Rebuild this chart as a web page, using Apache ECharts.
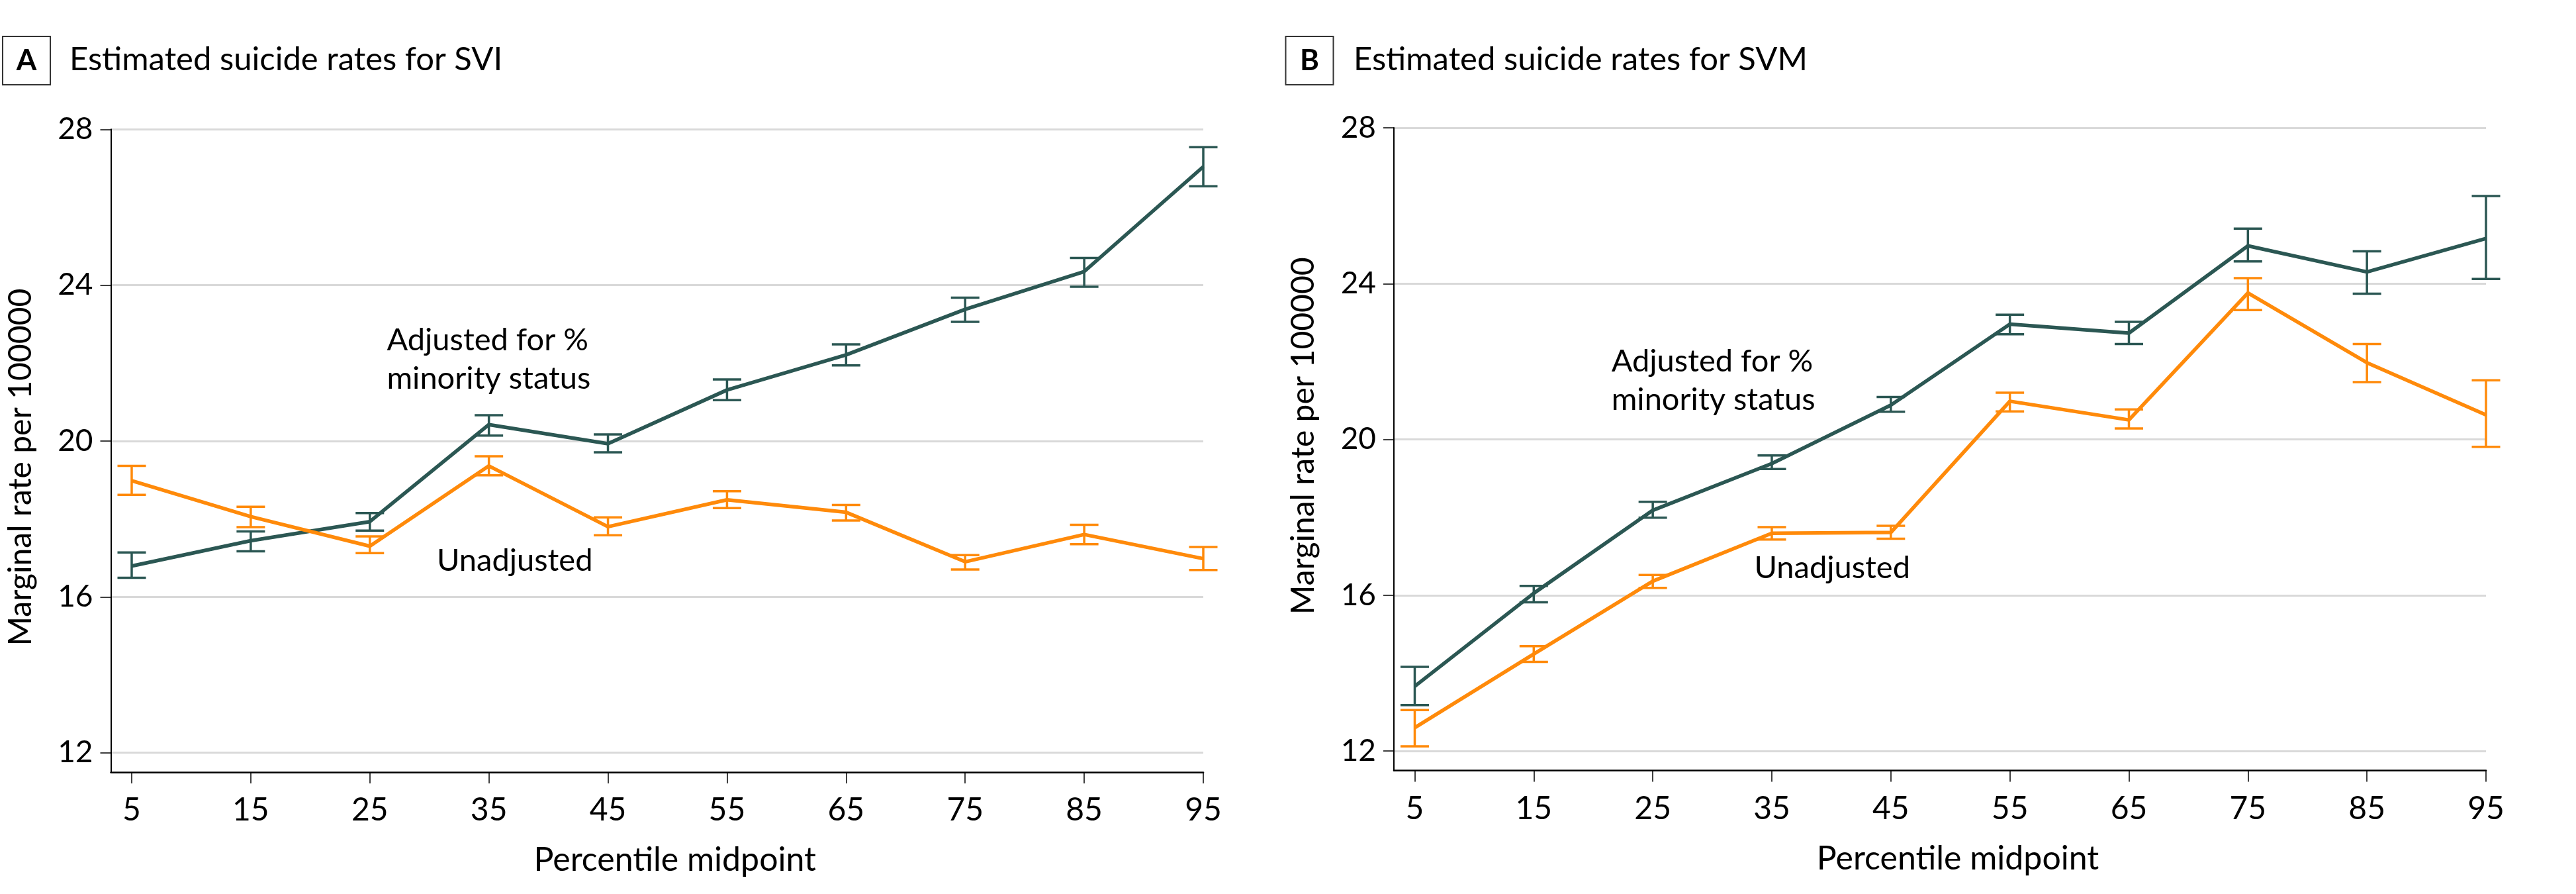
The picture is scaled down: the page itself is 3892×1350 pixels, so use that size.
<!DOCTYPE html>
<html>
<head>
<meta charset="utf-8">
<script src="https://cdn.jsdelivr.net/npm/echarts@6/dist/echarts.min.js"></script>
<style>
html,body{margin:0;padding:0;background:#fff;}
#chart{width:3892px;height:1350px;}
</style>
</head>
<body>
<div id="chart"></div>
<script>
// ---- data ----
const percentiles = [5, 15, 25, 35, 45, 55, 65, 75, 85, 95];
const yTicks = [12, 16, 20, 24, 28];

const sviAdjMean = [16.79, 17.44, 17.93, 20.42, 19.93, 21.31, 22.21, 23.38, 24.35, 27.04];
const sviAdjLow  = [16.49, 17.17, 17.70, 20.14, 19.71, 21.05, 21.94, 23.06, 23.96, 26.54];
const sviAdjHigh = [17.14, 17.68, 18.15, 20.66, 20.17, 21.58, 22.48, 23.68, 24.70, 27.54];

const sviUnMean = [18.98, 18.06, 17.30, 19.36, 17.80, 18.49, 18.17, 16.90, 17.60, 16.98];
const sviUnLow  = [18.62, 17.79, 17.12, 19.12, 17.58, 18.28, 17.96, 16.70, 17.35, 16.69];
const sviUnHigh = [19.36, 18.31, 17.55, 19.61, 18.04, 18.71, 18.36, 17.07, 17.85, 17.28];

const svmAdjMean = [13.66, 16.05, 18.18, 19.38, 20.88, 22.96, 22.73, 24.97, 24.30, 25.16];
const svmAdjLow  = [13.18, 15.82, 17.99, 19.24, 20.71, 22.70, 22.45, 24.57, 23.74, 24.12];
const svmAdjHigh = [14.16, 16.24, 18.40, 19.59, 21.09, 23.20, 23.02, 25.41, 24.83, 26.25];

const svmUnMean = [12.60, 14.49, 16.36, 17.59, 17.61, 20.98, 20.50, 23.76, 21.97, 20.63];
const svmUnLow  = [12.12, 14.29, 16.19, 17.43, 17.45, 20.72, 20.28, 23.32, 21.47, 19.81];
const svmUnHigh = [13.05, 14.69, 16.52, 17.75, 17.78, 21.20, 20.77, 24.14, 22.45, 21.52];

const panelLetters = ['A', 'B'];
const panelTitles = ['Estimated suicide rates for SVI', 'Estimated suicide rates for SVM'];
const xAxisName = 'Percentile midpoint';
const yAxisName = 'Marginal rate per 100000';
const adjLabel = 'Adjusted for %\nminority status';
const unLabel = 'Unadjusted';
// annotation anchor points in data units [x, y]
const adjLabelPos = [[26.4, 22.1], [21.5, 21.5]];
const unLabelPos = [[30.6, 16.93], [33.5, 16.7]];

// ---- styling ----
const TEAL = '#2b5753';
const ORANGE = '#ff8a0a';
const FONT = 'Lato, "Open Sans", sans-serif';

function pts(mean) { return percentiles.map((p, i) => [p, mean[i]]); }
function bars(low, high) { return percentiles.map((p, i) => [p, low[i], high[i]]); }

function errorBarRender(params, api) {
  const x = api.value(0);
  const pLo = api.coord([x, api.value(1)]);
  const pHi = api.coord([x, api.value(2)]);
  const hw = 21.5;
  const style = { stroke: api.visual('color'), lineWidth: 3.5, fill: null };
  return {
    type: 'group',
    children: [
      { type: 'line', shape: { x1: pLo[0], y1: pLo[1], x2: pHi[0], y2: pHi[1] }, style: style },
      { type: 'line', shape: { x1: pLo[0] - hw, y1: pLo[1], x2: pLo[0] + hw, y2: pLo[1] }, style: style },
      { type: 'line', shape: { x1: pHi[0] - hw, y1: pHi[1], x2: pHi[0] + hw, y2: pHi[1] }, style: style }
    ]
  };
}

const grids = [
  { left: 167.5, top: 195.3, width: 1650.5, height: 970.7 },
  { left: 2106, top: 193, width: 1650, height: 970.5 }
];

const xAxes = grids.map((g, i) => ({
  type: 'value', gridIndex: i, min: 3.25, max: 95,
  name: xAxisName, nameLocation: 'middle', nameGap: 108,
  nameTextStyle: { fontFamily: FONT, fontSize: 50, color: '#000', padding: [0, 0, 0, 54] },
  axisLine: { show: true, onZero: false, lineStyle: { color: '#000', width: 2.5 } },
  axisTick: { show: true, length: 17, customValues: percentiles, lineStyle: { color: '#000', width: 1.5 } },
  axisLabel: { show: true, customValues: percentiles, margin: 34, fontFamily: FONT, fontSize: 48, color: '#000' },
  splitLine: { show: false }
}));

const yNamePad = [[0, 50, 0, 0], [0, 0, 0, 40]];
const yAxes = grids.map((g, i) => ({
  type: 'value', gridIndex: i, min: 11.5, max: 28,
  name: yAxisName, nameLocation: 'middle', nameGap: 112,
  nameTextStyle: { fontFamily: FONT, fontSize: 48, color: '#000', padding: yNamePad[i] },
  axisLine: { show: true, onZero: false, lineStyle: { color: '#000', width: 2 } },
  axisTick: { show: true, length: 16, customValues: yTicks, lineStyle: { color: '#000', width: 1.5 } },
  axisLabel: { show: true, customValues: yTicks, margin: 27, fontFamily: FONT, fontSize: 46, color: '#000' },
  splitLine: { show: true, lineStyle: { color: '#d9d9d9', width: 3 } }
}));

function annot(pos, text) {
  return {
    symbol: 'circle', symbolSize: 1, silent: true,
    itemStyle: { color: 'rgba(0,0,0,0)' },
    label: {
      show: true, position: 'right', distance: 0,
      fontFamily: FONT, fontSize: 47, lineHeight: 58, color: '#000',
      formatter: () => text
    },
    data: [{ coord: pos }]
  };
}

const panels = [
  { adj: [sviAdjMean, sviAdjLow, sviAdjHigh], un: [sviUnMean, sviUnLow, sviUnHigh] },
  { adj: [svmAdjMean, svmAdjLow, svmAdjHigh], un: [svmUnMean, svmUnLow, svmUnHigh] }
];

const series = [];
panels.forEach((p, i) => {
  series.push({
    type: 'line', xAxisIndex: i, yAxisIndex: i, data: pts(p.adj[0]),
    showSymbol: false, symbol: 'none', lineStyle: { color: TEAL, width: 5.5 }, itemStyle: { color: TEAL },
    z: 3, markPoint: annot(adjLabelPos[i], adjLabel)
  });
  series.push({
    type: 'line', xAxisIndex: i, yAxisIndex: i, data: pts(p.un[0]),
    showSymbol: false, symbol: 'none', lineStyle: { color: ORANGE, width: 5.5 }, itemStyle: { color: ORANGE },
    z: 3, markPoint: annot(unLabelPos[i], unLabel)
  });
  series.push({
    type: 'custom', xAxisIndex: i, yAxisIndex: i, data: bars(p.adj[1], p.adj[2]),
    renderItem: errorBarRender, itemStyle: { color: TEAL }, encode: { x: 0, y: [1, 2] }, z: 4, clip: false
  });
  series.push({
    type: 'custom', xAxisIndex: i, yAxisIndex: i, data: bars(p.un[1], p.un[2]),
    renderItem: errorBarRender, itemStyle: { color: ORANGE }, encode: { x: 0, y: [1, 2] }, z: 4, clip: false
  });
});

const titleLeft = [105, 2045];
const boxLeft = [3, 1941.5];

const option = {
  backgroundColor: '#fff',
  animation: false,
  title: panelTitles.map((t, i) => ({
    text: t, left: titleLeft[i], top: 66, padding: 0,
    textStyle: { fontFamily: FONT, fontSize: 49, fontWeight: 'normal', color: '#000' }
  })),
  grid: grids,
  xAxis: xAxes,
  yAxis: yAxes,
  series: series,
  graphic: panelLetters.map((l, i) => ({
    type: 'group', left: boxLeft[i], top: 54,
    children: [
      { type: 'rect', shape: { x: 0, y: 0, width: 72, height: 73 }, style: { fill: '#fff', stroke: '#333', lineWidth: 2 } },
      { type: 'text', x: 36, y: 37, style: { text: l, fontFamily: FONT, fontSize: 44, fontWeight: 'bold', fill: '#000', align: 'center', verticalAlign: 'middle' } }
    ]
  }))
};

const chart = echarts.init(document.getElementById('chart'), null, { renderer: 'canvas' });
chart.setOption(option);
</script>
</body>
</html>
